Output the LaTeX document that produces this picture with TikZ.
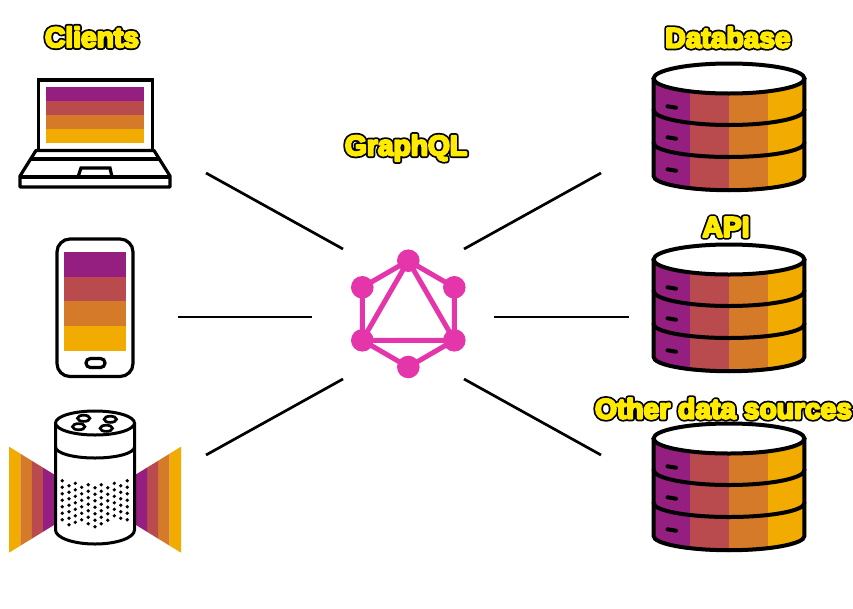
\documentclass[tikz,border=0pt]{standalone}
\usepackage{fontspec}
\setmainfont{Liberation Sans}[BoldFont={Liberation Sans Bold}]
\definecolor{cpurple}{HTML}{951F80}
\definecolor{cred}{HTML}{B94A4E}
\definecolor{corange}{HTML}{D47A28}
\definecolor{cyellow}{HTML}{F2AB00}
\definecolor{gqlpink}{HTML}{E535AB}
\newcommand\outl[1]{\special{pdf:code q 1 Tr 5.6 w 1 j 1 J 0 0 0 RG}\rlap{#1}\special{pdf:code Q q 2 Tr 2.1 w 1 j 1 J 1 0.92 0 RG 1 0.92 0 rg}#1\special{pdf:code Q}}
\tikzset{
  x=1pt,y=-1pt,
  title/.style={inner sep=0pt,font=\fontsize{28.2}{28}\selectfont\bfseries},
  outline/.style={draw=black,line width=3.2pt,line join=miter},
  link/.style={draw=black,line width=2.7pt},
  gnode/.style={circle,fill=gqlpink,minimum size=22.6pt,inner sep=0pt},
  gedge/.style={draw=gqlpink,line width=5pt},
  dbline/.style={draw=black,line width=4pt,line cap=round},
}
\begin{document}
\begin{tikzpicture}
\useasboundingbox (0,0) rectangle (853,608);
% titles
\node[title] (tclients) at (92,37) {\outl{Clients}};
\node[title] (tdb) at (728,37.5) {\outl{Database}};
\node[title] (tgql) at (406,148) {\outl{GraphQL}};
\node[title] (tapi) at (726,227) {\outl{API}};
\node[title] (tother) at (723.5,408.5) {\outl{Other data sources}};
% laptop
\fill[cpurple] (46,87.3) rectangle (144,101);
\fill[cred] (46,101) rectangle (144,115);
\fill[corange] (46,115) rectangle (144,129);
\fill[cyellow] (46,129) rectangle (144,142.7);
\draw[outline] (38.5,150) -- (38.5,80) -- (152.5,80) -- (152.5,150);
\draw[outline,line join=round] (36,150.5) -- (154,150.5) -- (170,176) -- (170,187) -- (20,187) -- (20,176) -- cycle;
\draw[outline,line width=3.6pt] (30,159) -- (160,159);
\draw[outline] (20,177) -- (170,177);
\draw[outline] (78,177) -- (81,168) -- (110,168) -- (112,177);
% phone
\fill[cpurple] (64.3,252.3) rectangle (125.7,277);
\fill[cred] (64.3,277) rectangle (125.7,301.4);
\fill[corange] (64.3,301.4) rectangle (125.7,326);
\fill[cyellow] (64.3,326) rectangle (125.7,350.5);
\draw[outline,rounded corners=13pt] (57,239) rectangle (133,376.5);
\draw[outline,rounded corners=4.4pt] (86,358.5) rectangle (105,367.5);
% speaker fans
\foreach \xa/\xb/\col in {9/20.3/cyellow,20.3/31.8/corange,31.8/43/cred,43/55/cpurple}{
  \fill[\col] (\xa,{499.7-53+(\xa-9)*0.615}) -- (\xb,{499.7-53+(\xb-9)*0.615}) -- (\xb,{499.7+53-(\xb-9)*0.615}) -- (\xa,{499.7+53-(\xa-9)*0.615}) -- cycle;
}
\foreach \xa/\xb/\col in {169.3/181/cyellow,158/169.3/corange,147/158/cred,135/147/cpurple}{
  \fill[\col] (\xa,{499.7-53+(181-\xa)*0.615}) -- (\xb,{499.7-53+(181-\xb)*0.615}) -- (\xb,{499.7+53-(181-\xb)*0.615}) -- (\xa,{499.7+53-(181-\xa)*0.615}) -- cycle;
}
% speaker
\draw[outline,fill=white,line width=3pt] (55.5,423) -- (55.5,530) arc[start angle=180,end angle=0,x radius=39.5,y radius=14] -- (134.5,423);
\draw[outline,fill=white,line width=3pt] (95,423) ellipse [x radius=39.5,y radius=12];
\draw[outline,line width=3pt] (55.5,447) arc[start angle=180,end angle=0,x radius=39.5,y radius=11];
\foreach \cx/\cy in {83.7/418.3,110.3/419.3,78.7/426.7,106.3/428.3}{
  \draw[outline,line width=2.7pt] (\cx,\cy) ellipse [x radius=6.2,y radius=3.1];
}
\foreach \cx/\ya/\yb in {62.3/480.7/520.7,69/485.7/525,75.3/483.3/522.3,81.7/487.3/525,88.3/484.7/524.3,95/487.7/527,101.3/484.7/524.3,107.7/487.7/526,114.3/483.3/522,120.7/485.7/524.3,127.3/480.7/520.7}{
  \pgfmathsetmacro{\ystep}{\ya+6.5}
  \foreach \cy in {\ya,\ystep,...,\yb}{ \fill[black] (\cx,\cy) circle[radius=1.85]; }
}
% databases
\foreach \dy in {0,181,360}{
\begin{scope}[shift={(0,\dy)}]
  \begin{scope}
    \clip (652,78.5) -- (652,176) arc[start angle=180,end angle=0,x radius=77,y radius=16] -- (806,78.5) -- cycle;
    \fill[cpurple] (650,60) rectangle (690,195);
    \fill[cred] (690,60) rectangle (728.8,195);
    \fill[corange] (728.8,60) rectangle (768,195);
    \fill[cyellow] (768,60) rectangle (808,195);
  \end{scope}
  \draw[dbline] (653.6,78.5) -- (653.6,176) arc[start angle=180,end angle=0,x radius=75.4,y radius=14.2] -- (804.4,78.5);
  \draw[dbline,fill=white] (729,78.5) ellipse [x radius=75.4,y radius=15];
  \draw[dbline] (653.6,110) arc[start angle=180,end angle=0,x radius=75.4,y radius=15];
  \draw[dbline] (653.6,143) arc[start angle=180,end angle=0,x radius=75.4,y radius=14];
  \draw[dbline] (667.5,106.3) -- (676,107.7);
  \draw[dbline] (667.5,137.3) -- (676,138.7);
  \draw[dbline] (667.5,169.3) -- (676,170.7);
\end{scope}
}
% GraphQL logo
\node[gnode] (gt) at (408.3,260.7) {};
\node[gnode] (gul) at (362.3,287.3) {};
\node[gnode] (gur) at (454.3,287.3) {};
\node[gnode] (gll) at (362.3,340.3) {};
\node[gnode] (glr) at (454.3,340.3) {};
\node[gnode] (gb) at (408.3,367) {};
\draw[gedge] (gt.center) -- (gur.center) -- (glr.center) -- (gb.center) -- (gll.center) -- (gul.center) -- cycle;
\draw[gedge] (gt.center) -- (gll.center) -- (glr.center) -- cycle;
% connectors
\coordinate (a1) at (206,173); \coordinate (a2) at (343,249);
\coordinate (b1) at (178,317); \coordinate (b2) at (312,317);
\coordinate (c1) at (206,455); \coordinate (c2) at (343,379);
\coordinate (d1) at (601,173); \coordinate (d2) at (464,249);
\coordinate (e1) at (629,317); \coordinate (e2) at (494,317);
\coordinate (f1) at (601,455); \coordinate (f2) at (464,379);
\draw[link] (a1) -- (a2);
\draw[link] (b1) -- (b2);
\draw[link] (c1) -- (c2);
\draw[link] (d1) -- (d2);
\draw[link] (e1) -- (e2);
\draw[link] (f1) -- (f2);
\end{tikzpicture}
\end{document}
